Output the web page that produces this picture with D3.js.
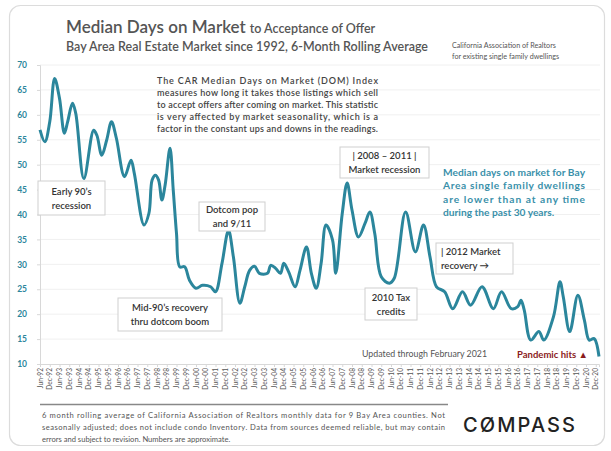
<!DOCTYPE html>
<html><head><meta charset="utf-8">
<script src="https://cdn.jsdelivr.net/npm/d3@7"></script>
<style>
html,body{margin:0;padding:0;background:#fff;}
svg text{font-family:Lato,"Open Sans",sans-serif;}
</style></head>
<body><svg id="c" width="611" height="451"></svg>
<script>
// month offsets from Jun-1992 and median DOM (6-mo rolling avg)
const monthsFromJun92 = [0,3,6,9,12,15,17,20,22,27,33,35,38,41,44,47,52,56,58,64,67,69,71,73,75,77,80,82,84,86,89,92,96,100,105,108,112,116,119,123,126,129,132,135,140,142,145,148,150,153,157,160,164,167,170,173,176,180,182,186,189,192,196,200,203,206,210,215,218,225,231,236,240,244,249,254,260,265,272,279,284,290,294,296,298,302,307,310,316,320,322,326,331,335,338,341,344];
const domValues = [57.0,54.6,58.6,67.3,63.3,56.3,58.6,62.3,60.3,47.2,56.9,55.9,51.9,54.9,58.6,55.3,47.6,50.9,48.3,37.9,40.2,46.9,47.9,46.9,42.9,45.9,53.3,44.9,36.2,29.5,29.5,26.8,25.2,25.8,25.5,24.5,30.2,36.8,31.5,22.2,25.5,28.8,29.6,28.2,28.2,29.8,29.2,28.2,30.2,28.5,25.5,28.8,33.5,28.2,25.2,30.2,37.9,34.9,28.2,40.2,46.3,40.9,35.5,38.2,40.5,36.2,27.5,26.2,27.2,40.5,32.5,37.9,31.5,25.5,24.5,21.1,24.5,21.8,25.5,21.1,24.5,21.1,21.5,22.8,20.8,14.8,16.5,14.8,19.5,26.5,23.5,16.5,23.8,18.8,14.8,15.1,11.5];
const yTicks = [10,15,20,25,30,35,40,45,50,55,60,65,70];
const xTickLabels = ["Jun-92","Dec-92","Jun-93","Dec-93","Jun-94","Dec-94","Jun-95","Dec-95","Jun-96","Dec-96","Jun-97","Dec-97","Jun-98","Dec-98","Jun-99","Dec-99","Jun-00","Dec-00","Jun-01","Dec-01","Jun-02","Dec-02","Jun-03","Dec-03","Jun-04","Dec-04","Jun-05","Dec-05","Jun-06","Dec-06","Jun-07","Dec-07","Jun-08","Dec-08","Jun-09","Dec-09","Jun-10","Dec-10","Jun-11","Dec-11","Jun-12","Dec-12","Jun-13","Dec-13","Jun-14","Dec-14","Jun-15","Dec-15","Jun-16","Dec-16","Jun-17","Dec-17","Jun-18","Dec-18","Jun-19","Dec-19","Jun-20","Dec-20"];

const svg = d3.select("#c");
const teal = "#2b869c";

// card
svg.append("rect").attr("x",9.5).attr("y",5.5).attr("width",595).attr("height",440).attr("rx",11)
  .attr("fill","#fff").attr("stroke","#dcdcdc").attr("stroke-width",1.2);

const x = d3.scaleLinear().domain([0,344]).range([40,599]);
const y = d3.scaleLinear().domain([10,70]).range([364,65]);

// gridlines
svg.append("g").selectAll("line").data(yTicks.filter(d=>d>10)).join("line")
  .attr("x1",40).attr("x2",600).attr("y1",d=>y(d)).attr("y2",d=>y(d))
  .attr("stroke","#f0f0f0").attr("stroke-width",1);

// y axis
const yAx = svg.append("g").attr("transform","translate(40,0)")
  .call(d3.axisLeft(y).tickValues(yTicks).tickSize(3).tickPadding(10).tickFormat(d3.format("d")));
yAx.select(".domain").attr("stroke","#d8d8d8");
yAx.selectAll(".tick line").attr("stroke","#d8d8d8");
yAx.selectAll("text").attr("fill",teal).attr("font-size",8.5).attr("font-weight",700)
  .style("font-family","Lato,sans-serif");

// x axis
const xTickVals = xTickLabels.map((d,i)=>i*6);
const xAx = svg.append("g").attr("transform","translate(0,364)")
  .call(d3.axisBottom(x).tickValues(xTickVals).tickSize(3).tickFormat((d,i)=>xTickLabels[i]));
xAx.select(".domain").attr("stroke","#d8d8d8");
xAx.selectAll(".tick line").attr("stroke","#d8d8d8");
xAx.selectAll("text").attr("fill","#555").attr("font-size",6.6)
  .attr("transform","rotate(-90)").attr("text-anchor","end")
  .attr("x",-4).attr("y",0).attr("dy","0.32em");

// line
const pts = monthsFromJun92.map((m,i)=>[m,domValues[i]]);
svg.append("path").datum(pts)
  .attr("fill","none").attr("stroke",teal).attr("stroke-width",3).attr("stroke-linejoin","round")
  .attr("d",d3.line().x(d=>x(d[0])).y(d=>y(d[1])).curve(d3.curveCatmullRom.alpha(0.5)));

// title
const t1 = svg.append("text").attr("x",66).attr("y",33).attr("fill","#555");
t1.append("tspan").attr("font-size",17).attr("font-weight",600).text("Median Days on Market");
t1.append("tspan").attr("font-size",12.5).attr("font-weight",600).attr("dx",4).text("to Acceptance of Offer");
svg.append("text").attr("x",66).attr("y",51).attr("fill","#555").attr("font-size",12.5).attr("font-weight",600)
  .attr("textLength",362).attr("lengthAdjust","spacingAndGlyphs")
  .text("Bay Area Real Estate Market since 1992, 6-Month Rolling Average");
svg.append("text").attr("x",452).attr("y",48).attr("fill","#555").attr("font-size",7.2)
  .text("California Association of Realtors");
svg.append("text").attr("x",452).attr("y",59).attr("fill","#555").attr("font-size",7.2)
  .text("for existing single family dwellings");

// description
const desc = ["The CAR Median Days on Market (DOM) Index",
 "measures how long it takes those listings which sell",
 "to accept offers after coming on market. This statistic",
 "is very affected by market seasonality, which is a",
 "factor in the constant ups and downs in the readings."];
svg.append("g").selectAll("text").data(desc).join("text")
  .attr("x",157).attr("y",(d,i)=>84+i*12).attr("fill","#444").attr("font-size",9).attr("font-weight",600)
  .attr("textLength",221).attr("lengthAdjust","spacing").text(d=>d);

// teal note
const note = ["Median days on market for Bay","Area single family dwellings","are lower than at any time","during the past 30 years."];
svg.append("g").selectAll("text").data(note).join("text")
  .attr("x",443).attr("y",(d,i)=>176+i*13.3).attr("fill","#3a90aa").attr("font-size",10.2).attr("font-weight",700)
  .attr("textLength",(d,i)=>i<3?142:null).attr("lengthAdjust","spacing").text(d=>d);

// annotation boxes
function box(x0,y0,w,h,lines,anchor){
  svg.append("rect").attr("x",x0).attr("y",y0).attr("width",w).attr("height",h)
    .attr("fill","#fff").attr("stroke","#cfcfcf").attr("stroke-width",1);
  const tx = anchor==="start"? x0+5 : x0+w/2;
  lines.forEach((l,i)=>{
    svg.append("text").attr("x",tx).attr("y",y0+h/2-7+i*14+3.5).attr("text-anchor",anchor||"middle")
      .attr("fill","#333").attr("font-size",9.5).attr("font-weight",600).text(l);
  });
}
box(38,181,67,34,["Early 90\u2019s","recession"]);
box(118,298,104,33,["Mid-90\u2019s recovery","thru dotcom boom"]);
box(199,202,66,29,["Dotcom pop","and 9/11"]);
box(340,147,89,31,["|   2008 \u2013 2011   |","Market recession"]);
box(365,288,52,32,["2010 Tax","credits"]);
box(436,243,77,31,["| 2012 Market","recovery \u2192"],"start");

svg.append("text").attr("x",362).attr("y",357).attr("fill","#555").attr("font-size",8.8)
  .text("Updated through February 2021");
svg.append("text").attr("x",517).attr("y",358).attr("fill","#8b1c1c").attr("font-size",9.5).attr("font-weight",700)
  .text("Pandemic hits \u25B2");

// footer
svg.append("line").attr("x1",40).attr("x2",448).attr("y1",404.5).attr("y2",404.5).attr("stroke","#888").attr("stroke-width",1.4);
const foot = ["6 month rolling average of California Association of Realtors monthly data for 9 Bay Area counties. Not",
 "seasonally adjusted; does not include condo Inventory. Data from sources deemed reliable, but may contain",
 "errors and subject to revision. Numbers are approximate."];
svg.append("g").selectAll("text").data(foot).join("text")
  .attr("x",42).attr("y",(d,i)=>418+i*12).attr("fill","#555").attr("font-size",7.6)
  .attr("textLength",(d,i)=>i<2?403:null).attr("lengthAdjust","spacing").text(d=>d);
svg.append("text").attr("x",463).attr("y",432).attr("fill","#222").attr("font-size",20).attr("font-weight",500)
  .attr("textLength",112).attr("lengthAdjust","spacing").style("font-family","Inter,sans-serif").text("C\u00D8MPASS");
</script></body></html>
